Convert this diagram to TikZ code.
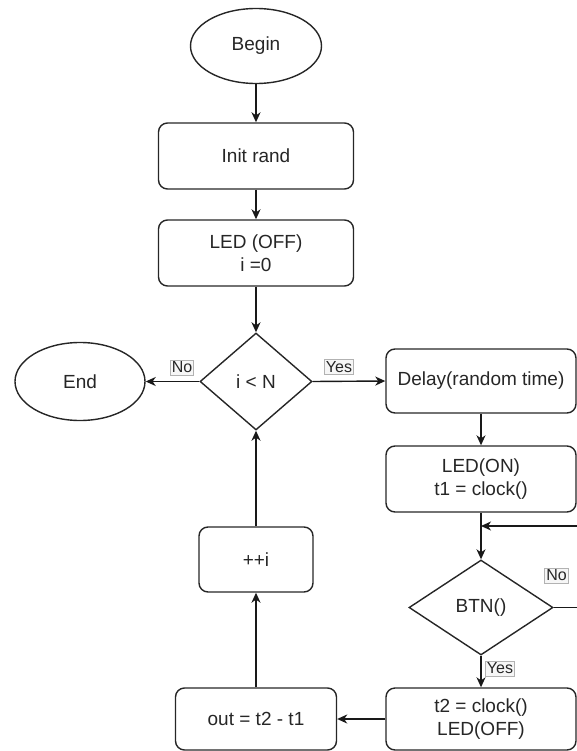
\documentclass[tikz,border=0pt]{standalone}
\usepackage{fontspec}
\setmainfont{Liberation Sans}
\usetikzlibrary{shapes.geometric,arrows.meta}
\begin{document}
\begin{tikzpicture}[x=1pt,y=-1pt,
  every node/.style={font=\fontsize{19}{23}\selectfont, text=black!85},
  shp/.style={draw=black!85, line width=1.4pt, inner sep=0pt, align=center},
  box/.style={shp, rounded corners=9pt},
  oval/.style={shp, ellipse, minimum width=131pt, minimum height=75pt},
  dia/.style={shp, diamond},
  arr/.style={draw=black!90, line width=1.4pt, -{Stealth[length=10pt,width=9pt,inset=3pt]}},
  lbl/.style={draw=gray!60, fill=gray!7, line width=0.6pt, inner xsep=1.5pt, inner ysep=2pt,
    font=\fontsize{16}{18}\selectfont, text=black!85}
]
\useasboundingbox (0,0) rectangle (577,751);
\clip (0,0) rectangle (577,751);
% nodes
\node[oval] (begin) at (256,46) {Begin};
\node[box, minimum width=195pt, minimum height=66pt] (init) at (256,156) {Init rand};
\node[box, minimum width=195pt, minimum height=66pt] (ledoff) at (256,253) {LED (OFF)\\i =0};
\node[dia, minimum width=112pt, minimum height=97pt] (cond) at (256,381.5) {i < N};
\node[oval, minimum width=130pt, minimum height=78pt] (end) at (80,381.5) {End};
\node[box, minimum width=190pt, minimum height=64pt] (delay) at (481,381) {Delay(random time)};
\node[box, minimum width=190pt, minimum height=66pt] (ledon) at (481,479) {LED(ON)\\t1 = clock()};
\node[dia, minimum width=144pt, minimum height=95pt] (btn) at (481,607.5) {BTN()};
\node[box, minimum width=190pt, minimum height=62pt] (t2) at (481,719) {t2 = clock()\\LED(OFF)};
\node[box, minimum width=161pt, minimum height=62pt] (out) at (256,719) {out = t2 - t1};
\node[box, minimum width=114pt, minimum height=65pt] (inc) at (256,559.5) {++i};
\coordinate (jn) at (481,526);
% connectors
\draw[arr] (begin) -- (init);
\draw[arr] (init) -- (ledoff);
\draw[arr] (ledoff) -- (cond);
\draw[arr] (cond.west) -- (end.east);
\draw[arr] (cond.east) -- (delay.west);
\draw[arr] (delay) -- (ledon);
\draw[arr] (ledon) -- (btn);
\draw[arr] (btn.east) -- ++(40,0) |- (jn);
\draw[arr] (btn) -- (t2);
\draw[arr] (t2) -- (out);
\draw[arr] (out) -- (inc);
\draw[arr] (inc) -- (cond.south);
% labels
\node[lbl] (lno1) at (182,367.5) {No};
\node[lbl] (lyes1) at (339,367) {Yes};
\node[lbl] (lno2) at (556.5,575.5) {No};
\node[lbl] (lyes2) at (500,668.5) {Yes};
\end{tikzpicture}
\end{document}
